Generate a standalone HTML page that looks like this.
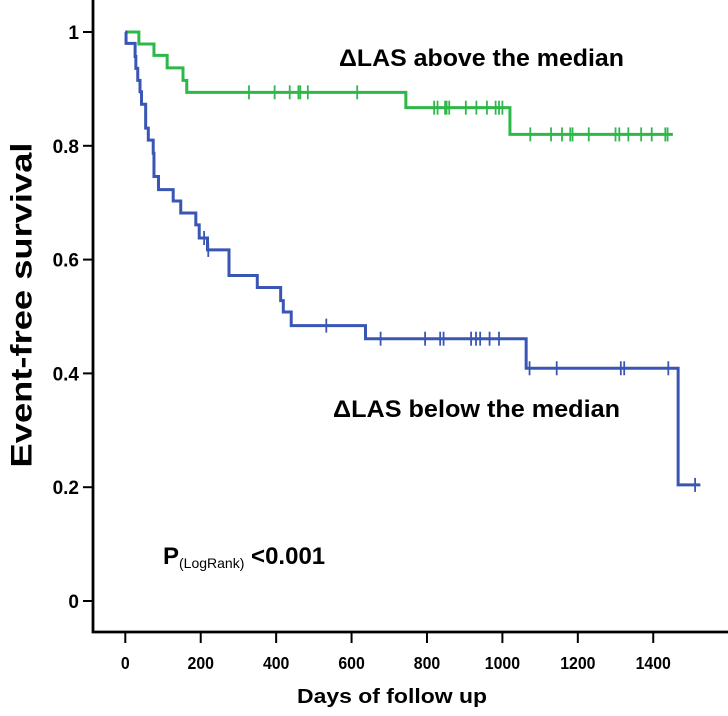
<!DOCTYPE html>
<html><head><meta charset="utf-8"><style>
body{margin:0;background:#fff;}
svg{display:block;font-family:"Liberation Sans",Arial,sans-serif;}
</style></head><body>
<svg id="chart" width="728" height="716" viewBox="0 0 728 716">
<g id="axes"></g>
<g id="series"></g>
<text x="22" y="305" transform="rotate(-90 22 305)" text-anchor="middle" dominant-baseline="central" font-size="30" font-weight="bold" textLength="325" lengthAdjust="spacingAndGlyphs">Event-free survival</text>
<text x="392" y="703" text-anchor="middle" font-size="20" font-weight="bold" textLength="190" lengthAdjust="spacingAndGlyphs">Days of follow up</text>
<text x="339" y="66" font-size="24" font-weight="bold" textLength="285" lengthAdjust="spacingAndGlyphs">ΔLAS above the median</text>
<text x="333" y="417" font-size="24" font-weight="bold" textLength="287" lengthAdjust="spacingAndGlyphs">ΔLAS below the median</text>
<text x="163" y="564" font-size="24" font-weight="bold">P<tspan font-size="14" font-weight="normal" dy="4">(LogRank)</tspan><tspan dy="-4"> &lt;0.001</tspan></text>
</svg>
<script>
const yTicks=[0,0.2,0.4,0.6,0.8,1];
const yTickLabels=["0","0.2","0.4","0.6","0.8","1"];
const xTicks=[0,200,400,600,800,1000,1200,1400];
const xTickLabels=["0","200","400","600","800","1000","1200","1400"];
// Above median (green)
const aboveTimes=[0,36,76,111,153,163,744,1020];
const aboveSurv=[1,0.979,0.959,0.937,0.915,0.894,0.867,0.820];
const aboveCensor=[328,396,436,459,464,484,615,819,828,848,852,859,903,931,959,982,991,1000,1074,1129,1158,1180,1186,1229,1300,1310,1334,1368,1396,1432,1438];
const aboveEnd=1452;
// Below median (blue)
const belowTimes=[0,2,26,28,33,39,43,54,61,74,76,88,127,147,187,196,218,275,350,412,419,440,637,1063,1466];
const belowSurv=[1,0.980,0.957,0.936,0.915,0.895,0.873,0.831,0.810,0.787,0.746,0.723,0.703,0.682,0.661,0.638,0.617,0.572,0.551,0.528,0.508,0.484,0.461,0.409,0.204];
const belowCensor=[209,220,533,677,795,835,844,917,930,941,966,991,1072,1144,1314,1323,1440,1511];
const belowEnd=1525;

const NS="http://www.w3.org/2000/svg";
const xS=d=>125.3+d*0.3771;
const yS=v=>601-v*569;
function mk(tag,attrs,parent){const e=document.createElementNS(NS,tag);for(const k in attrs)e.setAttribute(k,attrs[k]);parent.appendChild(e);return e;}
const axes=document.getElementById('axes');
const ax=mk('path',{d:'M93,0V632H728',fill:'none',stroke:'#000','stroke-width':2.8},axes);


yTicks.forEach((v,i)=>{
  const t=mk('line',{x1:83,x2:93,y1:yS(v),y2:yS(v),stroke:'#000','stroke-width':2},axes);
  
  
  const l=mk('text',{x:79,y:yS(v)+7,'text-anchor':'end','font-size':19,'font-weight':'bold'},axes);
  l.textContent=yTickLabels[i];
  
  
});
xTicks.forEach((d,i)=>{
  const t=mk('line',{x1:xS(d),x2:xS(d),y1:632,y2:643,stroke:'#000','stroke-width':2},axes);
  
  
  const l=mk('text',{x:0,y:0,'text-anchor':'middle','font-size':18,'font-weight':'bold',transform:'translate('+xS(d)+',669) scale(0.88,1)'},axes);
  l.textContent=xTickLabels[i];
  
  
});
function survAt(times,surv,t){let s=surv[0];for(let i=0;i<times.length;i++){if(times[i]<=t)s=surv[i];}return s;}
const series=document.getElementById('series');
function draw(times,surv,cens,end,color,name){
  let d='M'+xS(times[0])+','+yS(surv[0]);
  for(let i=1;i<times.length;i++){d+='H'+xS(times[i])+'V'+yS(surv[i]);}
  d+='H'+xS(end);
  const p=mk('path',{d:d,fill:'none',stroke:color,'stroke-width':3},series);
  
  
  cens.forEach(c=>{
    const y=yS(survAt(times,surv,c));
    const m=mk('line',{x1:xS(c),x2:xS(c),y1:y-7,y2:y+7,stroke:color,'stroke-width':1.8},series);
    
    
  });
}
draw(aboveTimes,aboveSurv,aboveCensor,aboveEnd,'#2fb84a','above-median');
draw(belowTimes,belowSurv,belowCensor,belowEnd,'#3a56b5','below-median');
</script>
</body></html>
